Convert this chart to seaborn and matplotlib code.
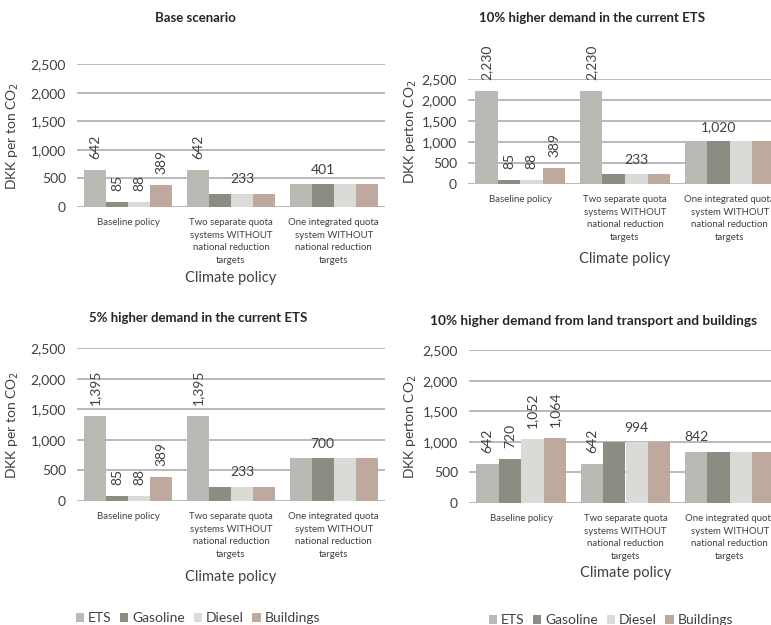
import pandas as pd
import seaborn as sns
import matplotlib.pyplot as plt

# Data
policies = ["Baseline policy",
            "Two separate quota\nsystems WITHOUT\nnational reduction\ntargets",
            "One integrated quota\nsystem WITHOUT\nnational reduction\ntargets"]
fuels = ["ETS", "Gasoline", "Diesel", "Buildings"]

titles = ["Base scenario",
          "10% higher demand in the current ETS",
          "5% higher demand in the current ETS",
          "10% higher demand from land transport and buildings"]

base_vals = [[642, 85, 88, 389], [642, 233, 233, 233], [401, 401, 401, 401]]
ets10_vals = [[2230, 85, 88, 389], [2230, 233, 233, 233], [1020, 1020, 1020, 1020]]
ets5_vals = [[1395, 85, 88, 389], [1395, 233, 233, 233], [700, 700, 700, 700]]
land10_vals = [[642, 720, 1052, 1064], [642, 994, 994, 994], [842, 842, 842, 842]]

ylabels = ["DKK per ton CO$_2$", "DKK perton CO$_2$", "DKK per ton CO$_2$", "DKK perton CO$_2$"]

# which bars carry a label: (group, fuel index, rotated)
labels_std = [(0, 0, True), (0, 1, True), (0, 2, True), (0, 3, True),
              (1, 0, True), (1, 2, False), (2, 1, False)]
labels_land = [(0, 0, True), (0, 1, True), (0, 2, True), (0, 3, True),
               (1, 0, True), (1, 2, False), (2, 0, False)]

colors = ["#b9bab3", "#8b8c82", "#dadbd6", "#bfa99e"]

sns.set_style("white")
plt.rcParams['font.family'] = ['Lato', 'DejaVu Sans']
txt = "#404040"

fig = plt.figure(figsize=(7.71, 6.25), dpi=100)
W, H = 771, 625

# panel geometry in pixels: left, right, y of 0, y of 2500
geom = [(77, 385, 207, 64), (468, 782, 184, 79),
        (77, 385, 501, 348), (469, 782, 503, 350)]
title_pos = [(195, 18), (592, 18), (198, 318), (593, 321)]
title_size = [9.5, 9.5, 9.5, 9.8]
xlab_top = [271, 252, 570, 566]
ylab_x = [21, 419, 21, 419]

panels = [base_vals, ets10_vals, ets5_vals, land10_vals]
lab_specs = [labels_std, labels_std, labels_std, labels_land]

for i, vals in enumerate(panels):
    l, r, y0, y1 = geom[i]
    ax = fig.add_axes([l / W, 1 - y0 / H, (r - l) / W, (y0 - y1) / H])
    rows = []
    for g, p in enumerate(policies):
        for f, fu in enumerate(fuels):
            rows.append({"policy": p, "fuel": fu, "price": vals[g][f]})
    df = pd.DataFrame(rows)
    sns.barplot(data=df, x="policy", y="price", hue="fuel", palette=colors,
                width=0.86, ax=ax, saturation=1, linewidth=0, legend=True)
    handles, labs = ax.get_legend_handles_labels()
    ax.get_legend().remove()

    ax.set_ylim(0, 2500 * 1.003)
    ax.set_xlim(-0.5, 2.5)
    ax.set_yticks([0, 500, 1000, 1500, 2000, 2500])
    ax.set_yticklabels(["0", "500", "1,000", "1,500", "2,000", "2,500"])
    ax.yaxis.grid(True, color="#a6a6a6", linewidth=1.1)
    ax.set_axisbelow(True)
    for s in ax.spines.values():
        s.set_visible(False)
    ax.tick_params(axis="y", length=0, pad=8, labelsize=10, labelcolor=txt)
    ax.tick_params(axis="x", length=0, pad=8, labelsize=6.9, labelcolor=txt)
    for t in ax.get_xticklabels():
        t.set_linespacing(1.5)

    ax.set_xlabel("Climate policy", fontsize=10.5, color=txt)
    ax.xaxis.set_label_coords(0.5, (y0 - xlab_top[i]) / (y0 - y1))
    ax.set_ylabel(ylabels[i], fontsize=10, color=txt)
    ax.yaxis.set_label_coords((ylab_x[i] - l) / (r - l), 0.5)

    for g, f, rot in lab_specs[i]:
        bar = ax.containers[f][g]
        v = vals[g][f]
        x = bar.get_x() + bar.get_width() / 2
        if rot:
            ax.annotate(f"{v:,}", (x, v), xytext=(0, 8), textcoords="offset points",
                        rotation=90, ha="center", va="bottom", fontsize=10,
                        color=txt, annotation_clip=False)
        else:
            ax.annotate(f"{v:,}", (x, v), xytext=(0, 6), textcoords="offset points",
                        ha="center", va="bottom", fontsize=10, color=txt,
                        annotation_clip=False)

    tx, ty = title_pos[i]
    fig.text(tx / W, 1 - ty / H, titles[i], ha="center", va="center",
             fontsize=title_size[i], fontweight="bold", color="#262626")

    if i >= 2:
        cx = 198 if i == 2 else 611
        cy = 618 if i == 2 else 620
        fig.legend(handles, labs, loc="center", bbox_to_anchor=(cx / W, 1 - cy / H),
                   ncol=4, frameon=False, fontsize=10, handlelength=0.6,
                   handleheight=0.6, handletextpad=0.3, columnspacing=0.6,
                   labelcolor=txt)

fig.savefig("out.png", dpi=100)
